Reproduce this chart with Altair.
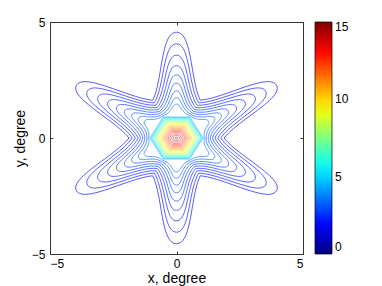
import math
import altair as alt
import pandas as pd

# ---- values (units: degree) ----
# blue, petal-shaped contour lines (outer -> inner)
petal_levels = [1.8, 2.0, 2.2, 2.4, 2.6, 2.8, 3.0, 3.2, 3.4]
petal_tip = [4.56, 4.06, 3.57, 3.12, 2.72, 2.36, 2.03, 1.73, 1.46]
petal_valley = [1.88, 1.75, 1.63, 1.52, 1.42, 1.33, 1.25, 1.17, 1.10]
petal_width = [0.57, 0.49, 0.42, 0.36, 0.31, 0.26, 0.22, 0.19, 0.16]
petal_axes_deg = [90, 150, 210, 270, 330, 30]

# dense hexagonal contour lines in the core
core_levels = [4.0, 4.5, 5.0, 5.5, 6.0, 6.5, 7.0, 7.5, 8.0, 8.5, 9.0, 9.5,
               10.0, 10.5, 11.0, 11.5, 12.0, 12.5, 13.0, 13.5, 14.0, 14.5, 15.0]
core_radius = [1.05, 1.02, 0.99, 0.96, 0.93, 0.90, 0.86, 0.83, 0.79, 0.75, 0.71, 0.67,
               0.62, 0.58, 0.53, 0.48, 0.43, 0.38, 0.33, 0.27, 0.20, 0.13, 0.05]
core_vertex_deg = [0, 60, 120, 180, 240, 300, 360]

x_ticks = [-5, 0, 5]
y_ticks = [-5, 0, 5]
bar_ticks = [0, 5, 10, 15]
jet = ["#000080", "#0000ff", "#0080ff", "#00ffff", "#80ff80",
       "#ffff00", "#ff8000", "#ff0000", "#800000"]

# ---- build line table ----
def rot(u, v, ang):
    ca, sa = math.cos(ang), math.sin(ang)
    return u * ca - v * sa, u * sa + v * ca

def bez(p0, p1, p2, p3, s):
    a, b, c, d = (1 - s) ** 3, 3 * (1 - s) ** 2 * s, 3 * (1 - s) * s ** 2, s ** 3
    return (a * p0[0] + b * p1[0] + c * p2[0] + d * p3[0],
            a * p0[1] + b * p1[1] + c * p2[1] + d * p3[1])

rows = []
cid = 0
for lev, t, rv, w in zip(petal_levels, petal_tip, petal_valley, petal_width):
    pts = []
    vu, vv = rv * math.cos(math.pi / 6), rv * math.sin(math.pi / 6)
    P0 = (vu, vv)
    P1 = (vu + 0.3 * (t - vu), w * 0.95)
    P2 = (t, w * 1.1)
    P3 = (t, 0.0)
    n = 24
    half = [bez(P0, P1, P2, P3, k / n) for k in range(n + 1)]
    local = [(u, -v) for (u, v) in half] + [(u, v) for (u, v) in reversed(half[:-1])]
    for deg in petal_axes_deg:
        ang = math.radians(deg)
        for (u, v) in local:
            pts.append(rot(u, v, ang))
    pts.append(pts[0])
    for i, (x, y) in enumerate(pts):
        rows.append({"cid": cid, "kind": "petal", "level": lev, "ord": i, "x": x, "y": y})
    cid += 1

for lev, r in zip(core_levels, core_radius):
    for i, deg in enumerate(core_vertex_deg):
        ang = math.radians(deg)
        rows.append({"cid": cid, "kind": "core", "level": lev, "ord": i,
                     "x": r * math.cos(ang), "y": r * math.sin(ang)})
    cid += 1

df = pd.DataFrame(rows)

W, H = 253, 232
FONT = "Liberation Sans"

x_enc = alt.X("x:Q", scale=alt.Scale(domain=[-5, 5], nice=False, zero=False),
              axis=alt.Axis(values=x_ticks, title="x, degree", labelPadding=4,
                            titlePadding=2, gridDash=[3, H - 6, 3, 1000]))
y_enc = alt.Y("y:Q", scale=alt.Scale(domain=[-5, 5], nice=False, zero=False),
              axis=alt.Axis(values=y_ticks, title="y, degree", labelPadding=5,
                            titlePadding=4, gridDash=[3, W - 6, 3, 1000]))
c_enc = alt.Color("level:Q", title=None,
                  scale=alt.Scale(domain=[0, 15], range=jet, interpolate="rgb"),
                  legend=alt.Legend(orient="right", offset=12, padding=0,
                                    gradientLength=H, gradientThickness=17,
                                    values=bar_ticks, labelFontSize=12,
                                    labelOffset=3, labelFont=FONT,
                                    labelColor="#000", labelBaseline="middle",
                                    gradientStrokeColor="#000",
                                    gradientStrokeWidth=0.7,
                                    direction="vertical"))

base = alt.Chart(df).encode(x=x_enc, y=y_enc, color=c_enc,
                            detail="cid:N", order="ord:Q")

petals = base.transform_filter(alt.datum.kind == "petal").mark_line(
    strokeWidth=1, strokeOpacity=0.65)
core = base.transform_filter(alt.datum.kind == "core").mark_line(
    strokeWidth=0.6, strokeOpacity=0.7)

chart = alt.layer(petals, core).properties(
    width=W, height=H,
    autosize=alt.AutoSizeParams(type="none"),
    padding={"left": 42, "top": 14, "right": 71, "bottom": 32},
).configure_view(
    stroke="#333", strokeWidth=1
).configure_axis(
    labelFont=FONT, labelFontSize=12, labelColor="#000",
    titleFont=FONT, titleFontSize=14, titleFontWeight="normal", titleColor="#000",
    domain=False, ticks=False, tickSize=0,
    grid=True, gridColor="#333", gridOpacity=1, gridWidth=1,
).configure_legend(
    gradientVerticalMaxLength=H
)

chart.save("out.html", embed_options={"renderer": "svg", "actions": False})
